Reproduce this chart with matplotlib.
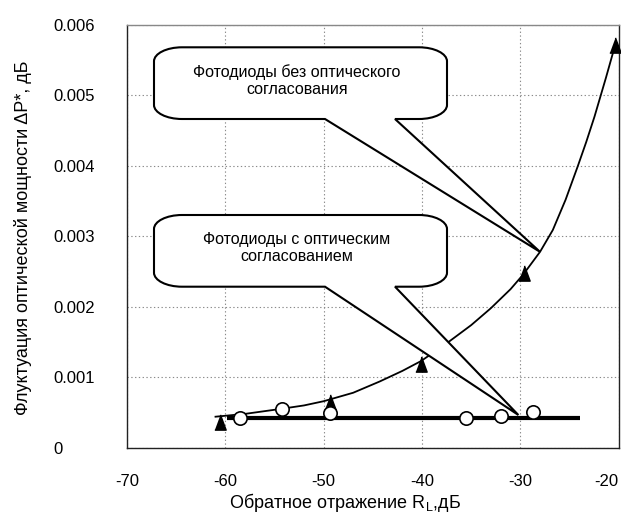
import matplotlib
matplotlib.use('Agg')
import matplotlib.pyplot as plt
from matplotlib.path import Path
from matplotlib.patches import PathPatch

plt.rcParams['font.family'] = ['Liberation Sans', 'DejaVu Sans']
plt.rcParams['axes.unicode_minus'] = False
plt.rcParams['mathtext.fontset'] = 'custom'
plt.rcParams['mathtext.rm'] = 'Liberation Sans'

# ---- data ----
tri_x = [-60.5, -49.35, -40.1, -29.65, -20.35]
tri_y = [0.00036, 0.00065, 0.00119, 0.00248, 0.00572]

circ_x = [-58.5, -54.2, -49.35, -35.55, -31.98, -28.67]
circ_y = [0.000426, 0.000545, 0.000488, 0.000426, 0.00045, 0.000511]

# trend curve through the triangle series
curve_x = [-61.0, -58.0, -54.4, -52.0, -50.0, -47.0, -44.3, -42.0, -40.1,
           -37.6, -35.0, -33.0, -31.0, -29.7, -28.0, -26.7, -25.4, -24.15,
           -23.3, -22.46, -21.3, -20.35]
curve_y = [0.00044, 0.00048, 0.00055, 0.00060, 0.00066, 0.00078, 0.00094,
           0.00109, 0.00123, 0.00147, 0.00174, 0.00198, 0.00225, 0.00246,
           0.00278, 0.00309, 0.00352, 0.00400, 0.00434, 0.00470, 0.00525,
           0.00572]

# trend line of the circle series
flat_x = [-59.8, -23.9]
flat_y = [0.000426, 0.000426]

xticks = [-70, -60, -50, -40, -30, -20]
xtick_labels = ['-70', '-60', '-50', '-40', '-30', '-20']
yticks = [0, 0.001, 0.002, 0.003, 0.004, 0.005, 0.006]
ytick_labels = ['0', '0.001', '0.002', '0.003', '0.004', '0.005', '0.006']

xlabel = 'Обратное отражение R$_\\mathregular{L}$,дБ'
ylabel = 'Флуктуация оптической мощности ΔP*, дБ'

callout_texts = ['Фотодиоды без оптического\nсогласования',
                 'Фотодиоды с оптическим\nсогласованием']
callout_tips = [(-28.0, 0.00278), (-30.2, 0.000464)]

# ---- figure ----
W, H = 621, 514
fig = plt.figure(figsize=(W / 100, H / 100), dpi=100)
L, T, R, B = 127, 25, 618.7, 447.7
ax = fig.add_axes([L / W, 1 - B / H, (R - L) / W, (B - T) / H])
ax.set_xlim(-70, -20)
ax.set_ylim(0, 0.006)

ax.set_xticks(xticks, labels=xtick_labels)
ax.set_yticks(yticks, labels=ytick_labels, ha='left')
ax.tick_params(axis='both', length=0, labelsize=12)
ax.tick_params(axis='x', pad=18.6)
ax.tick_params(axis='y', pad=53.3)
ax.get_xticklabels()[-1].set_ha('right')

ax.grid(True, color='#8a8a8a', linestyle=(0, (1.2, 2.2)), linewidth=0.8)
ax.set_axisbelow(True)
for side, sp in ax.spines.items():
    sp.set_linewidth(1.0)
    sp.set_color('#888888' if side == 'top' else '#222222')

ax.set_xlabel(xlabel, fontsize=13)
ax.xaxis.set_label_coords((344.5 - L) / (R - L), -(508.5 - B) / (B - T))
ax.xaxis.label.set_va('baseline')
ax.set_ylabel(ylabel, fontsize=13)
ax.yaxis.set_label_coords((23 - L) / (R - L), (B - 238) / (B - T))
ax.yaxis.label.set_va('center')

# series
ax.plot(flat_x, flat_y, color='black', lw=3.0, solid_capstyle='butt', zorder=3)
ax.plot(curve_x, curve_y, color='black', lw=1.3, zorder=3,
        solid_joinstyle='round')
tri_marker = [(-1, -1.35), (1, -1.35), (0, 1.35)]
ax.plot(tri_x, tri_y, linestyle='none', marker=tri_marker, markersize=11,
        color='black', zorder=4, clip_on=False)
ax.plot(circ_x, circ_y, linestyle='none', marker='o', markersize=9.6,
        markerfacecolor='white', markeredgecolor='black', markeredgewidth=1.2,
        zorder=5, clip_on=False)

# ---- callouts (drawn in pixel space, y down) ----
def to_fig(x, y):
    return (x / W, 1 - y / H)

def tip_px(pt):
    dx, dy = ax.transData.transform(pt)
    return (dx * W / fig.bbox.width, H - dy * H / fig.bbox.height)

def callout(box, tip, text, text_y):
    bl, bt, br, bb = box
    rx, ry = 28, 14
    k = 0.5523
    tx, ty = tip
    b1, b2 = 325, 395
    verts = [
        (bl + rx, bt), (br - rx, bt),
        (br - rx + k * rx, bt), (br, bt + ry - k * ry), (br, bt + ry),
        (br, bb - ry),
        (br, bb - ry + k * ry), (br - rx + k * rx, bb), (br - rx, bb),
        (b2, bb), (tx, ty), (b1, bb),
        (bl + rx, bb),
        (bl + rx - k * rx, bb), (bl, bb - ry + k * ry), (bl, bb - ry),
        (bl, bt + ry),
        (bl, bt + ry - k * ry), (bl + rx - k * rx, bt), (bl + rx, bt),
        (bl + rx, bt),
    ]
    codes = [Path.MOVETO, Path.LINETO,
             Path.CURVE4, Path.CURVE4, Path.CURVE4,
             Path.LINETO,
             Path.CURVE4, Path.CURVE4, Path.CURVE4,
             Path.LINETO, Path.LINETO, Path.LINETO,
             Path.LINETO,
             Path.CURVE4, Path.CURVE4, Path.CURVE4,
             Path.LINETO,
             Path.CURVE4, Path.CURVE4, Path.CURVE4,
             Path.CLOSEPOLY]
    path = Path([to_fig(x, y) for x, y in verts], codes)
    patch = PathPatch(path, facecolor='white', edgecolor='black', lw=1.5,
                      transform=fig.transFigure, zorder=10, joinstyle='miter')
    fig.add_artist(patch)
    cx, cy = to_fig(297, text_y)
    fig.text(cx, cy, text, ha='center', va='center', fontsize=11.5,
             linespacing=1.1, zorder=11)

callout((154, 47.3, 447, 119), tip_px(callout_tips[0]), callout_texts[0], 80.5)
callout((154, 215, 447, 286.7), tip_px(callout_tips[1]), callout_texts[1], 248)

fig.savefig('out.png', dpi=100)
